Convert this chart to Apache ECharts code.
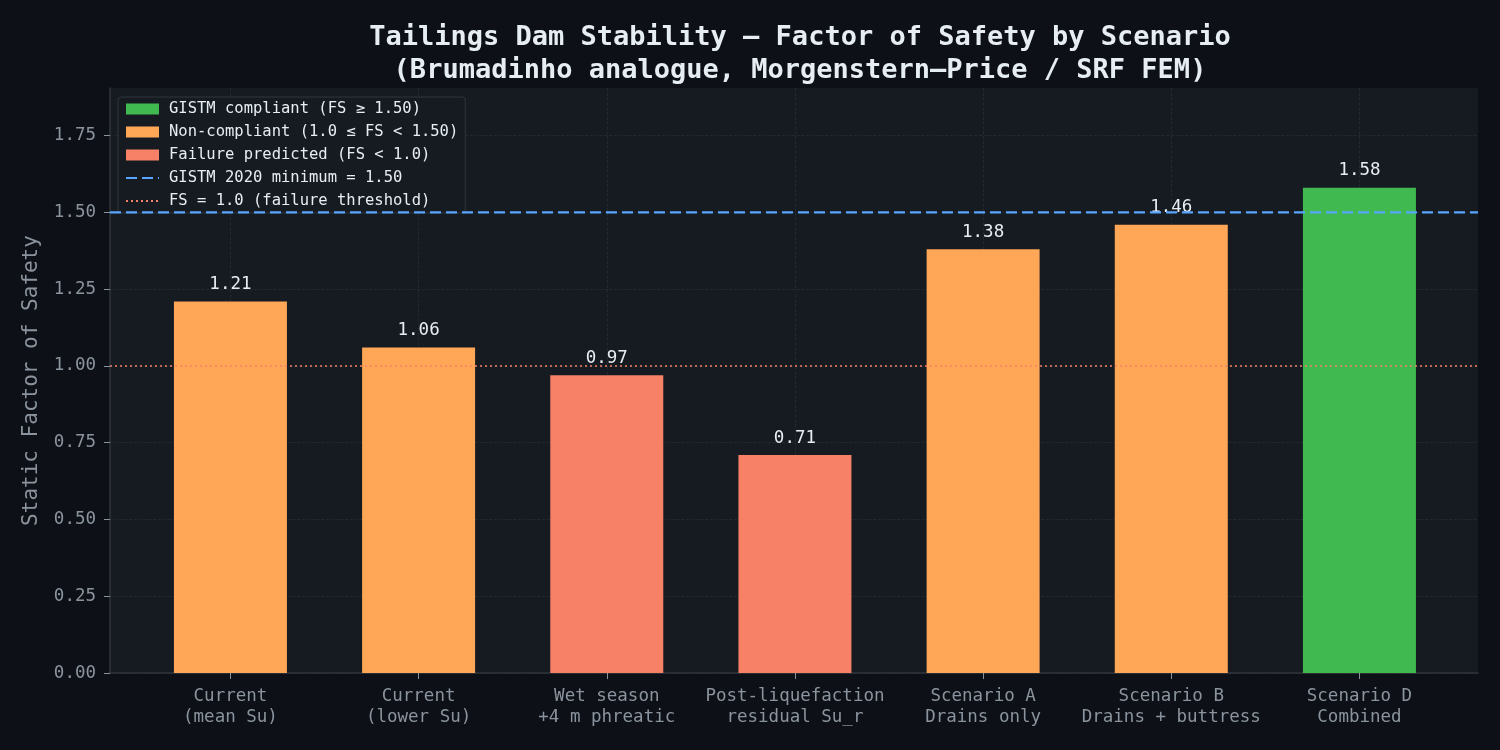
<!DOCTYPE html>
<html>
<head>
<meta charset="utf-8">
<script src="https://cdn.jsdelivr.net/npm/echarts@6/dist/echarts.min.js"></script>
<style>
  html, body { margin: 0; padding: 0; background: #0d1117; }
  #chart { width: 1500px; height: 750px; }
</style>
</head>
<body>
<div id="chart"></div>
<script>
// data
const categories = [
  'Current\n(mean Su)',
  'Current\n(lower Su)',
  'Wet season\n+4 m phreatic',
  'Post-liquefaction\nresidual Su_r',
  'Scenario A\nDrains only',
  'Scenario B\nDrains + buttress',
  'Scenario D\nCombined'
]
const fsValues = [1.21, 1.06, 0.97, 0.71, 1.38, 1.46, 1.58]
const yTicks = [0, 0.25, 0.5, 0.75, 1.0, 1.25, 1.5, 1.75]
const gistmMin = 1.5
const failureFs = 1.0

const FONT = '"DejaVu Sans Mono", monospace'
const GREEN = '#3fb950'
const ORANGE = '#ffa657'
const RED = '#f78166'
const BLUE = '#58a6ff'
const TXT = '#e6edf3'
const MUTED = '#8b949e'
const GRID = '#30363d'

const xMin = -0.64
const xMax = categories.length - 1 + 0.63

function bucket(test) {
  return fsValues.map((v, i) => test(v) ? [i, v] : null).filter(d => d)
}

const barBase = {
  type: 'bar',
  barWidth: 113,
  barGap: '-100%',
  label: {
    show: true,
    position: 'top',
    distance: 8,
    color: TXT,
    fontFamily: FONT,
    fontSize: 17.5,
    formatter: p => p.value[1].toFixed(2)
  }
}

const legendText = { color: TXT, fontFamily: FONT, fontSize: 15.5, padding: [0, 0, 0, 5] }

const chart = echarts.init(document.getElementById('chart'))

chart.setOption({
  backgroundColor: '#0d1117',
  animation: false,
  title: {
    text: 'Tailings Dam Stability — Factor of Safety by Scenario\n(Brumadinho analogue, Morgenstern–Price / SRF FEM)',
    left: 795,
    top: 16,
    textAlign: 'center',
    textStyle: {
      color: TXT,
      fontFamily: FONT,
      fontSize: 27,
      fontWeight: 'bold',
      lineHeight: 33
    }
  },
  legend: {
    orient: 'vertical',
    left: 118,
    top: 97,
    padding: [4, 7, 4, 7],
    itemWidth: 33,
    itemHeight: 11,
    itemGap: 7,
    backgroundColor: '#161b22',
    borderColor: GRID,
    borderWidth: 1,
    borderRadius: 3,
    textStyle: legendText,
    data: [
      { name: 'GISTM compliant (FS ≥ 1.50)', icon: 'rect' },
      { name: 'Non-compliant (1.0 ≤ FS < 1.50)', icon: 'rect' },
      { name: 'Failure predicted (FS < 1.0)', icon: 'rect' },
      { name: 'GISTM 2020 minimum = 1.50', itemStyle: { opacity: 0 } },
      { name: 'FS = 1.0 (failure threshold)', itemStyle: { opacity: 0 } }
    ]
  },
  grid: {
    left: 110,
    right: 22,
    top: 88,
    bottom: 77,
    show: true,
    backgroundColor: '#161b22',
    borderWidth: 0
  },
  xAxis: {
    type: 'value',
    min: xMin,
    max: xMax,
    axisLine: { show: true, lineStyle: { color: GRID, width: 1.5 } },
    axisTick: {
      show: true,
      length: 6,
      lineStyle: { color: MUTED },
      customValues: categories.map((c, i) => i)
    },
    axisLabel: {
      color: MUTED,
      fontFamily: FONT,
      fontSize: 17.5,
      lineHeight: 21,
      margin: 13,
      customValues: categories.map((c, i) => i),
      formatter: v => categories[Math.round(v)] || ''
    },
    splitLine: {
      show: true,
      lineStyle: { color: GRID, type: 'dashed', width: 0.8, opacity: 0.6 }
    }
  },
  yAxis: {
    type: 'value',
    min: 0,
    max: 1.905,
    name: 'Static Factor of Safety',
    nameLocation: 'middle',
    nameGap: 68,
    nameTextStyle: { color: MUTED, fontFamily: FONT, fontSize: 21 },
    axisLine: { show: true, onZero: false, lineStyle: { color: GRID, width: 1.5 } },
    axisTick: {
      show: true,
      length: 6,
      lineStyle: { color: MUTED },
      customValues: yTicks
    },
    axisLabel: {
      color: MUTED,
      fontFamily: FONT,
      fontSize: 17.5,
      margin: 14,
      customValues: yTicks,
      formatter: v => v.toFixed(2)
    },
    splitLine: {
      show: true,
      lineStyle: { color: GRID, type: 'dashed', width: 0.8, opacity: 0.6 }
    }
  },
  series: [
    Object.assign({}, barBase, {
      name: 'GISTM compliant (FS ≥ 1.50)',
      itemStyle: { color: GREEN },
      data: bucket(v => v >= gistmMin)
    }),
    Object.assign({}, barBase, {
      name: 'Non-compliant (1.0 ≤ FS < 1.50)',
      itemStyle: { color: ORANGE },
      data: bucket(v => v >= failureFs && v < gistmMin)
    }),
    Object.assign({}, barBase, {
      name: 'Failure predicted (FS < 1.0)',
      itemStyle: { color: RED },
      data: bucket(v => v < failureFs)
    }),
    {
      name: 'GISTM 2020 minimum = 1.50',
      type: 'line',
      symbol: 'none',
      z: 5,
      lineStyle: { color: BLUE, type: [11, 5], width: 2.2 },
      itemStyle: { color: BLUE },
      data: [[xMin, gistmMin], [xMax, gistmMin]]
    },
    {
      name: 'FS = 1.0 (failure threshold)',
      type: 'line',
      symbol: 'none',
      z: 5,
      lineStyle: { color: RED, type: [2, 3], width: 1.5 },
      itemStyle: { color: RED },
      data: [[xMin, failureFs], [xMax, failureFs]]
    }
  ]
})
</script>
</body>
</html>
